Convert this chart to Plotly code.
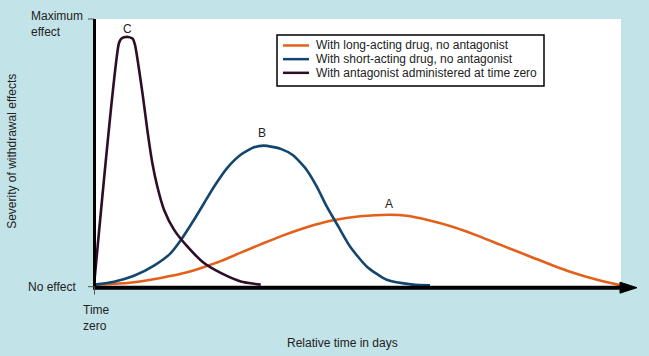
import plotly.graph_objects as go

# ---- data (relative time units 0..100, severity 0..1) ----
series_names = ["With long-acting drug, no antagonist",
                "With short-acting drug, no antagonist",
                "With antagonist administered at time zero"]

a_x = [0, 6.13, 12.28, 17.18, 20.26, 23.33, 27.02, 30.70, 34.25, 39.17, 44.07, 48.99, 54.51,
       57.59, 61.27, 66.17, 71.09, 74.77, 80.85, 87.11, 93.19, 96.87]
a_y = [0.004, 0.010, 0.029, 0.050, 0.070, 0.092, 0.124, 0.155, 0.184, 0.219, 0.245, 0.260, 0.266,
       0.262, 0.247, 0.220, 0.184, 0.154, 0.105, 0.056, 0.019, 0.002]

b_x = [0, 3.68, 7.37, 11.05, 14.13, 15.97, 18.42, 20.26, 22.10, 24.55, 27.02, 29.47, 31.31,
       34.38, 36.65, 39.17, 41.01, 42.85, 44.99, 47.15, 50.22, 53.90, 58.75, 61.88]
b_y = [0.004, 0.015, 0.037, 0.075, 0.122, 0.170, 0.247, 0.309, 0.371, 0.442, 0.491, 0.519, 0.525,
       0.513, 0.489, 0.434, 0.372, 0.297, 0.222, 0.147, 0.072, 0.022, 0.004, 0.001]

c_x = [0, 4.60, 5.06, 6.08, 7.09, 7.55, 9.02, 9.82, 10.74, 11.66, 12.89, 14.73, 17.18, 20.26,
       23.33, 27.02, 30.70]
c_y = [0.0, 0.910, 0.927, 0.933, 0.927, 0.903, 0.708, 0.584, 0.460, 0.372, 0.285, 0.210, 0.147,
       0.085, 0.048, 0.016, 0.004]

labels = ["A", "B", "C"]
label_x = [54.3, 31.0, 6.1]
label_y = [0.307, 0.572, 0.962]

colors = ["#e2601a", "#12466e", "#2d0d28"]

# ---- layout geometry (pixels) ----
W, H = 649, 356
L, R, T, B = 94, 640, 19, 299.35
XMAX = (R - L) / 5.43
YMIN = -(B - 286) / 267.0
YMAX = (286 - T) / 267.0


def PX(px):
    return (px - L) / (R - L)


def PY(py):
    return (B - py) / (B - T)


fig = go.Figure()
for xs, ys, name, col in [(a_x, a_y, series_names[0], colors[0]),
                          (b_x, b_y, series_names[1], colors[1]),
                          (c_x, c_y, series_names[2], colors[2])]:
    fig.add_trace(go.Scatter(x=xs, y=ys, mode="lines", name=name,
                             line=dict(color=col, width=2.6, shape="spline", smoothing=0.6),
                             hoverinfo="skip", showlegend=False))

bg = "#c2e3e8"
shapes = [
    # white plot region
    dict(type="rect", xref="paper", yref="paper", x0=PX(94), x1=PX(621), y0=PY(287), y1=PY(19),
         fillcolor="white", line=dict(width=0), layer="below"),
    # y axis
    dict(type="line", xref="paper", yref="paper", x0=PX(94.5), x1=PX(94.5), y0=PY(289), y1=PY(19),
         line=dict(color="black", width=3)),
    # x axis
    dict(type="line", xref="paper", yref="paper", x0=PX(93), x1=PX(624), y0=PY(288), y1=PY(288),
         line=dict(color="black", width=4)),
    # arrow head
    dict(type="path", xref="paper", yref="paper",
         path=f"M {PX(620)},{PY(282.5)} L {PX(637)},{PY(288)} L {PX(620)},{PY(293.5)} Z",
         fillcolor="black", line=dict(color="black", width=1)),
    # ticks
    dict(type="line", xref="paper", yref="paper", x0=PX(88), x1=PX(94), y0=PY(19), y1=PY(19),
         line=dict(color="#555", width=1)),
    dict(type="line", xref="paper", yref="paper", x0=PX(88), x1=PX(94), y0=PY(287), y1=PY(287),
         line=dict(color="#555", width=1)),
    dict(type="line", xref="paper", yref="paper", x0=PX(94.5), x1=PX(94.5), y0=PY(287), y1=PY(295),
         line=dict(color="#555", width=1)),
    # legend box
    dict(type="rect", xref="paper", yref="paper", x0=PX(277), x1=PX(544), y0=PY(86), y1=PY(35),
         fillcolor="white", line=dict(color="black", width=1.5)),
]

font = dict(family="Liberation Sans, Arial, sans-serif", size=12, color="#222")
anns = []
# manual legend entries
for i, (name, col) in enumerate(zip(series_names, colors)):
    yy = 45.5 + i * 13.7
    shapes.append(dict(type="line", xref="paper", yref="paper", x0=PX(283), x1=PX(309),
                       y0=PY(yy), y1=PY(yy), line=dict(color=col, width=2.5)))
    anns.append(dict(x=PX(314), y=PY(yy), xref="paper", yref="paper", text=name,
                     xanchor="left", yanchor="middle", showarrow=False, font=font))

for t, x, y in zip(labels, label_x, label_y):
    anns.append(dict(x=x, y=y, xref="x", yref="y", text=t, showarrow=False, font=font))
anns += [
    dict(x=PX(29), y=PY(7), xref="paper", yref="paper", text="Maximum<br>effect", align="left",
         xanchor="left", yanchor="top", showarrow=False, font=font),
    dict(x=PX(78), y=PY(287), xref="paper", yref="paper", text="No effect", xanchor="right",
         yanchor="middle", showarrow=False, font=font),
    dict(x=PX(81), y=PY(301), xref="paper", yref="paper", text="Time<br>zero", align="left",
         xanchor="left", yanchor="top", showarrow=False, font=font),
    dict(x=PX(342), y=PY(343), xref="paper", yref="paper", text="Relative time in days",
         xanchor="center", yanchor="middle", showarrow=False, font=font),
    dict(x=PX(12), y=PY(152), xref="paper", yref="paper", text="Severity of withdrawal effects",
         textangle=-90, xanchor="center", yanchor="middle", showarrow=False, font=font),
]

fig.update_layout(
    width=W, height=H,
    margin=dict(l=L, r=W - R, t=T, b=H - B, pad=0),
    paper_bgcolor=bg, plot_bgcolor=bg,
    xaxis=dict(range=[0, XMAX], visible=False, fixedrange=True),
    yaxis=dict(range=[YMIN, YMAX], visible=False, fixedrange=True),
    shapes=shapes, annotations=anns,
    showlegend=False,
)

fig.write_html("out.html", config={"displayModeBar": False, "staticPlot": True},
               post_script="document.body.style.margin='0px';document.body.style.overflow='hidden';")
